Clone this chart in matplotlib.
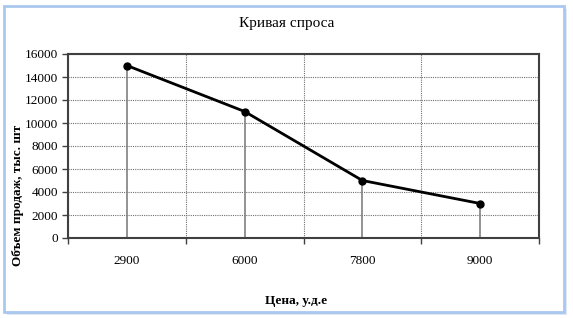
import matplotlib
matplotlib.use("Agg")
import matplotlib.pyplot as plt
from matplotlib.patches import FancyBboxPatch

prices = ["2900", "6000", "7800", "9000"]
volumes = [15000, 11000, 5000, 3000]
yticks = [0, 2000, 4000, 6000, 8000, 10000, 12000, 14000, 16000]

W, H = 573, 318
fig = plt.figure(figsize=(W / 100, H / 100), dpi=100)
fig.patch.set_facecolor("white")

# outer frame
shadow = FancyBboxPatch((7 / W, 3 / H), 560 / W, 306 / H, boxstyle="square,pad=0",
                        transform=fig.transFigure, facecolor="#dde6f2", edgecolor="none", zorder=-2)
frame = FancyBboxPatch((4 / W, 6 / H), 560 / W, 306 / H, boxstyle="square,pad=0",
                       transform=fig.transFigure, facecolor="white", edgecolor="#a9c8ee",
                       linewidth=2.0, zorder=-1)
fig.patches.extend([shadow, frame])

L, R, T, B = 68, 539, 54, 238
ax = fig.add_axes([L / W, 1 - B / H, (R - L) / W, (B - T) / H])
ax.set_zorder(1)
ax.set_facecolor("none")

x = list(range(len(prices)))
ax.vlines(x, 0, volumes, colors="#808080", linewidth=1.2, zorder=2)
ax.plot(x, volumes, color="black", linewidth=2, marker="o", markersize=5, zorder=3)

ax.set_xlim(-0.5, len(prices) - 0.5)
ax.set_ylim(0, 16000)
ax.set_yticks(yticks)
ax.set_yticklabels([str(v) for v in yticks])
ax.set_xticks(x)
ax.set_xticklabels(prices)
ax.set_xticks([i + 0.5 for i in range(-1, len(prices))], minor=True)
ax.tick_params(axis="x", which="major", length=0, pad=12)
ax.tick_params(axis="x", which="minor", length=4, width=1, color="#404040", direction="out")
ax.tick_params(axis="y", length=4, width=1, color="#404040", direction="out", pad=3)
for lab in ax.get_xticklabels() + ax.get_yticklabels():
    lab.set_fontfamily("Liberation Serif")
    lab.set_fontsize(9.5)

ax.grid(axis="y", which="major", linestyle=(0, (1, 1)), color="#707070", linewidth=0.8)
ax.grid(axis="x", which="minor", linestyle=(0, (1, 1)), color="#707070", linewidth=0.8)
ax.grid(axis="x", which="major", visible=False)
for s in ax.spines.values():
    s.set_color("#404040")
    s.set_linewidth(1.5)

fig.text(287 / W, 1 - 23 / H, "Кривая спроса", ha="center", va="center",
         fontfamily="Liberation Serif", fontsize=11)
fig.text(18 / W, 1 - 195 / H, "Объем продаж, тыс. шт", ha="center", va="center",
         rotation=90, fontfamily="Liberation Serif", fontsize=9.5, fontweight="bold")
fig.text(296 / W, 1 - 301 / H, "Цена, у.д.е", ha="center", va="center",
         fontfamily="Liberation Serif", fontsize=9.5, fontweight="bold")

fig.savefig("out.png", dpi=100)
